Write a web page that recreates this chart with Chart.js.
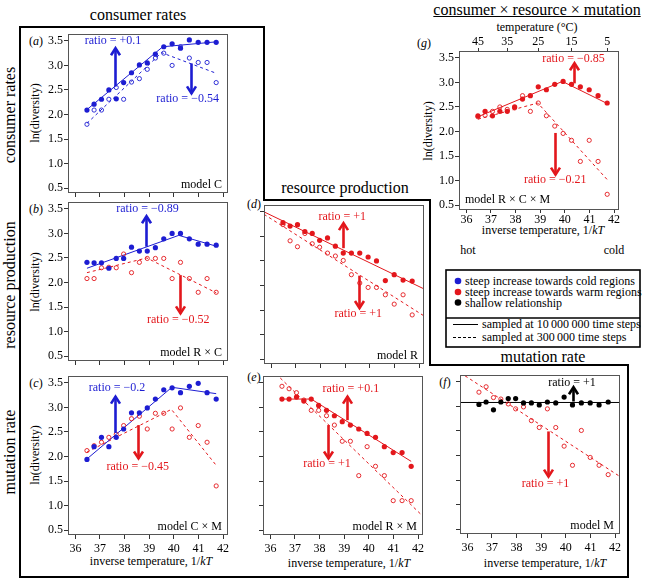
<!DOCTYPE html>
<html lang="en">
<head>
<meta charset="UTF-8">
<title>ln(diversity) against inverse temperature</title>
<script src="https://cdn.jsdelivr.net/npm/chart.js"></script>
<style>
  body { margin:0; background:#fff; width:647px; height:579px; position:relative; overflow:hidden;
         font-family:'Liberation Serif','Times New Roman',serif; color:#000; }
  canvas, svg { position:absolute; }
  .t { position:absolute; white-space:nowrap; transform:translate(-50%,-50%); line-height:1; font-size:12px; }
  .big { font-size:16px; }
  .rot { transform:translate(-50%,-50%) rotate(-90deg); }
  .lft { transform:translate(0,-50%); }
</style>
</head>
<body>
<svg width="647" height="579" style="left:0;top:0">
  <path d="M20,27 H264 V200 H430 V365 H628 V577 H20 Z" fill="none" stroke="#000" stroke-width="2"/>
  <rect x="446" y="270" width="194" height="77" fill="none" stroke="#000" stroke-width="1.6"/>
  <line x1="446" y1="318" x2="640" y2="318" stroke="#000" stroke-width="1.6"/>
  <circle cx="458" cy="281" r="3.3" fill="#1d1dd2"/>
  <circle cx="458" cy="292" r="3.3" fill="#e3171c"/>
  <circle cx="458" cy="302.5" r="3.3" fill="#000"/>
  <line x1="453" y1="324.5" x2="478" y2="324.5" stroke="#000" stroke-width="1"/>
  <line x1="453" y1="337.5" x2="478" y2="337.5" stroke="#000" stroke-width="1" stroke-dasharray="3,2"/>
</svg>

<div class="t big" style="left:138px;top:15px">consumer rates</div>
<div class="t big" style="left:345px;top:188px">resource production</div>
<div class="t big" style="left:543px;top:357px">mutation rate</div>
<div class="t big" style="left:537px;top:10px;text-decoration:underline">consumer × resource × mutation</div>

<div class="t big rot" style="left:10px;top:115px">consumer rates</div>
<div class="t big rot" style="left:10px;top:285px">resource production</div>
<div class="t big rot" style="left:10px;top:452px">mutation rate</div>

<div class="t" style="left:36px;top:41px">(<i>a</i>)</div>
<div class="t" style="left:36px;top:209px">(<i>b</i>)</div>
<div class="t" style="left:36px;top:383px">(<i>c</i>)</div>
<div class="t" style="left:254px;top:204px">(<i>d</i>)</div>
<div class="t" style="left:254px;top:377px">(<i>e</i>)</div>
<div class="t" style="left:445px;top:382px">(<i>f</i>)</div>
<div class="t" style="left:424px;top:43px">(<i>g</i>)</div>

<div class="t rot" style="left:35px;top:113px">ln(diversity)</div>
<div class="t rot" style="left:35px;top:282px">ln(diversity)</div>
<div class="t rot" style="left:35px;top:455px">ln(diversity)</div>
<div class="t rot" style="left:428px;top:131px">ln(diversity)</div>

<div class="t" style="left:151px;top:561px">inverse temperature, 1/<i>kT</i></div>
<div class="t" style="left:349px;top:563px">inverse temperature, 1/<i>kT</i></div>
<div class="t" style="left:545px;top:563px">inverse temperature, 1/<i>kT</i></div>
<div class="t" style="left:543px;top:230px">inverse temperature, 1/<i>kT</i></div>
<div class="t" style="left:537px;top:27px">temperature (°C)</div>
<div class="t" style="left:468px;top:250px">hot</div>
<div class="t" style="left:614px;top:250px">cold</div>

<div class="t lft" style="left:465px;top:281px">steep increase towards cold regions</div>
<div class="t lft" style="left:465px;top:292px">steep increase towards warm regions</div>
<div class="t lft" style="left:465px;top:302.5px">shallow relationship</div>
<div class="t lft" style="left:482px;top:324px">sampled at 10&#8201;000&#8201;000 time steps</div>
<div class="t lft" style="left:482px;top:337px">sampled at 300&#8201;000 time steps</div>

<script>
    // inverse temperature (1/kT) of the sampled sites, 45 °C down to 5 °C
    const xs = [36.47, 36.76, 37.06, 37.36, 37.66, 37.96, 38.28, 38.60, 38.92, 39.25, 39.59, 39.93, 40.27, 40.63, 40.99, 41.35, 41.72];
    const xTicks = [36, 37, 38, 39, 40, 41, 42];
    const yTicks = [0.5, 1.0, 1.5, 2.0, 2.5, 3.0, 3.5];
    const tempTicks = [45, 35, 25, 15, 5];

    // (a) model C
    const aSolid  = [2.09, 2.21, 2.31, 2.50, 2.32, 2.65, 2.85, 3.01, 3.05, 3.23, 3.38, 3.44, 3.35, 3.52, 3.47, 3.47, 3.47];
    const aHollow = [1.80, 2.09, 2.09, 2.31, 2.55, 2.31, 2.66, 2.73, 2.92, 3.15, 3.25, 3.00, 3.38, 3.15, 3.06, 3.06, 2.65];
    const aSolidFitX = [36.47, 39.55, 41.72], aSolidFitY = [2.10, 3.38, 3.48];
    const aDashFitX  = [36.47, 39.50, 41.72], aDashFitY  = [1.82, 3.26, 2.84];

    // (b) model R x C
    const bSolid  = [2.41, 2.40, 2.40, 2.29, 2.49, 2.49, 2.72, 2.64, 2.64, 2.71, 2.89, 3.00, 3.00, 2.89, 2.78, 2.78, 2.76];
    const bHollow = [2.08, 2.08, 2.30, 2.31, 2.30, 2.58, 2.20, 2.41, 2.49, 2.49, 2.49, 2.08, 2.41, 2.08, 1.80, 2.08, 1.80];
    const bSolidFitX = [36.47, 40.20, 41.72], bSolidFitY = [2.29, 2.96, 2.74];
    const bDashFitX  = [36.47, 38.90, 41.72], bDashFitY  = [2.20, 2.50, 1.79];

    // (c) model C x M
    const cSolid  = [1.94, 2.20, 2.39, 2.20, 2.39, 2.56, 2.89, 2.89, 2.99, 3.17, 3.36, 3.40, 3.30, 3.43, 3.49, 3.30, 3.17];
    const cHollow = [2.12, 2.22, 2.29, 2.39, 2.45, 2.63, 2.77, 2.82, 2.56, 2.88, 2.88, 2.56, 2.99, 2.39, 2.63, 2.29, 1.40];
    const cSolidFitX = [36.47, 39.92, 41.72], cSolidFitY = [1.95, 3.41, 3.28];
    const cDashFitX  = [36.47, 39.90, 41.72], cDashFitY  = [2.09, 2.96, 1.82];

    // (d) model R
    const dSolid  = [3.28, 3.21, 3.24, 3.10, 3.06, 2.92, 2.97, 2.80, 2.66, 2.66, 2.66, 2.58, 2.50, 2.10, 2.22, 2.11, 2.09];
    const dHollow = [3.24, 2.91, 2.79, 3.06, 2.85, 2.78, 2.66, 2.60, 2.51, 2.22, 2.05, 1.96, 1.96, 1.81, 1.62, 1.81, 1.40];
    const dSolidFitX = [35.70, 42.20], dSolidFitY = [3.50, 1.93];
    const dDashFitX  = [35.70, 42.20], dDashFitY  = [3.45, 1.38];

    // (e) model R x M
    const eSolid  = [3.17, 3.17, 3.21, 3.13, 3.17, 3.04, 2.94, 2.83, 2.71, 2.64, 2.56, 2.47, 2.39, 2.20, 2.08, 2.08, 1.80];
    const eHollow = [3.43, 3.38, 3.30, 3.15, 2.94, 2.94, 2.83, 2.64, 2.31, 2.31, 1.61, 2.20, 1.80, 1.61, 1.10, 1.10, 1.10];
    const eSolidFitX = [36.47, 37.66, 41.72], eSolidFitY = [3.17, 3.17, 1.90];
    const eDashFitX  = [35.70, 42.20], eDashFitY  = [3.94, 0.78];

    // (f) model M
    const fSolid  = [3.04, 3.09, 2.93, 3.09, 3.16, 3.16, 3.07, 3.07, 3.03, 3.09, 3.07, 3.19, 3.03, 3.07, 3.07, 3.03, 3.09];
    const fHollow = [3.29, 3.40, 3.18, 3.15, 3.05, 2.95, 2.99, 2.71, 2.57, 2.95, 2.57, 2.19, 1.80, 2.51, 1.96, 1.80, 1.61];
    const fSolidFitX = [35.70, 42.20], fSolidFitY = [3.08, 3.08];
    const fDashFitX  = [35.70, 42.20], fDashFitY  = [3.69, 1.57];

    // (g) model R x C x M
    const gSolid  = [2.32, 2.41, 2.32, 2.41, 2.41, 2.50, 2.66, 2.73, 2.91, 2.85, 2.96, 3.02, 2.96, 2.91, 2.85, 2.73, 2.58];
    const gHollow = [2.30, 2.33, 2.41, 2.50, 2.45, 2.48, 2.73, 2.41, 2.58, 2.32, 2.11, 1.96, 1.82, 1.39, 1.82, 1.39, 0.72];
    const gSolidFitX = [36.47, 39.90, 41.72], gSolidFitY = [2.30, 3.02, 2.57];
    const gDashFitX  = [36.47, 38.90, 41.72], gDashFitY  = [2.25, 2.58, 1.02];

    const BLUE = '#1d1dd2', RED = '#e3171c', BLACK = '#000000';
    const FONT = "'Liberation Serif', serif";
    const X_MIN = 35.7, X_MAX = 42.2, Y_MIN = 0.4, Y_MAX = 3.64;
    const BOX_W = 160, BOX_H = 159, AXIS_W = 45, AXIS_H = 30, PAD_R = 14;
    const kB = 8.617e-5;

    Chart.defaults.font.family = FONT;
    Chart.defaults.font.size = 12;

    const pts = ys => xs.map((x, i) => ({ x: x, y: ys[i] }));

    const scatterSet = (ys, color, filled) => ({
        data: pts(ys),
        pointRadius: filled ? 2.6 : 2.1,
        pointBorderWidth: filled ? 0 : 0.9,
        pointBackgroundColor: filled ? color : 'rgba(255,255,255,0)',
        pointBorderColor: color,
        showLine: false,
        order: 0
    });

    const fitSet = (fx, fy, color, dashed) => ({
        data: fx.map((x, i) => ({ x: x, y: fy[i] })),
        showLine: true,
        borderColor: color,
        borderWidth: 1,
        borderDash: dashed ? [3, 3] : [],
        pointRadius: 0,
        order: 1
    });

    const decoFor = p => ({
        id: 'deco',
        afterDraw(chart) {
            const { ctx, chartArea: a, scales } = chart;
            const x = scales.x, y = scales.y;
            ctx.save();
            ctx.strokeStyle = '#555';
            ctx.lineWidth = 1;
            ctx.strokeRect(a.left + 0.5, a.top + 0.5, a.width - 1, a.height - 1);

            p.notes.forEach(n => {
                const px = Math.round(x.getPixelForValue(n.x)) + 0.5;
                const p0 = y.getPixelForValue(n.from);
                const p1 = y.getPixelForValue(n.to);
                const dir = p1 < p0 ? 1 : -1;
                ctx.strokeStyle = n.color;
                ctx.lineWidth = 2.6;
                ctx.beginPath();
                ctx.moveTo(px, p0);
                ctx.lineTo(px, p1);
                ctx.stroke();
                ctx.beginPath();
                ctx.moveTo(px - 4.5, p1 + dir * 7);
                ctx.lineTo(px, p1);
                ctx.lineTo(px + 4.5, p1 + dir * 7);
                ctx.stroke();
                ctx.fillStyle = n.color;
                ctx.font = '12px ' + FONT;
                ctx.textAlign = 'center';
                ctx.textBaseline = 'middle';
                ctx.fillText(n.label, x.getPixelForValue(n.lx), y.getPixelForValue(n.ly));
            });

            ctx.fillStyle = '#000';
            ctx.font = '12px ' + FONT;
            ctx.textBaseline = 'middle';
            if (p.modelLeft) {
                ctx.textAlign = 'left';
                ctx.fillText(p.model, a.left + 6, a.bottom - 10);
            } else {
                ctx.textAlign = 'right';
                ctx.fillText(p.model, a.right - 6, a.bottom - 8);
            }
            ctx.restore();
        }
    });

    const makePanel = p => {
        const padT = p.topAxis ? 32 : 8;
        const cv = document.createElement('canvas');
        cv.width = AXIS_W + BOX_W + PAD_R;
        cv.height = padT + BOX_H + AXIS_H;
        cv.style.left = (p.box[0] - AXIS_W) + 'px';
        cv.style.top = (p.box[1] - padT) + 'px';
        document.body.appendChild(cv);

        const tickFont = { family: FONT, size: 12, lineHeight: 1 };
        const grid = { drawOnChartArea: false, drawTicks: true, tickLength: 4, color: '#333', lineWidth: 1 };
        const scales = {
            x: {
                type: 'linear', position: 'bottom', min: X_MIN, max: X_MAX,
                afterBuildTicks: s => { s.ticks = xTicks.map(v => ({ value: v })); },
                afterFit: s => { s.height = AXIS_H; },
                ticks: { display: p.xLabels, font: tickFont, color: '#000', padding: p.topAxis ? 1 : 4,
                         autoSkip: false, maxRotation: 0 },
                grid: p.topAxis ? Object.assign({}, grid, { tickLength: 3 }) : grid,
                border: { display: false }
            },
            y: {
                type: 'linear', position: 'left', min: Y_MIN, max: Y_MAX,
                afterBuildTicks: s => { s.ticks = yTicks.map(v => ({ value: v })); },
                afterFit: s => { s.width = AXIS_W; },
                ticks: { display: p.yLabels, font: tickFont, color: '#000', padding: 1, autoSkip: false,
                         callback: v => v.toFixed(1) },
                grid: grid,
                border: { display: false }
            }
        };
        if (p.topAxis) {
            scales.x2 = {
                type: 'linear', position: 'top', min: X_MIN, max: X_MAX,
                afterBuildTicks: s => { s.ticks = tempTicks.map(t => ({ value: 1 / (kB * (t + 273.15)) })); },
                afterFit: s => { s.height = 26; },
                ticks: { font: tickFont, color: '#000', padding: 0, autoSkip: false,
                         maxRotation: 0, callback: (v, i) => tempTicks[i] },
                grid: Object.assign({}, grid, { tickLength: 3 }),
                border: { display: false }
            };
        }

        new Chart(cv, {
            type: 'scatter',
            data: { datasets: p.datasets },
            options: {
                responsive: false,
                animation: false,
                devicePixelRatio: 1,
                events: [],
                layout: { autoPadding: false, padding: { left: 0, right: PAD_R, top: p.topAxis ? 6 : padT, bottom: 0 } },
                plugins: { legend: { display: false }, tooltip: { enabled: false } },
                scales: scales
            },
            plugins: [decoFor(p)]
        });
    };

    const panels = [
        {
            box: [68, 34], xLabels: false, yLabels: true, model: 'model C',
            datasets: [scatterSet(aSolid, BLUE, true), scatterSet(aHollow, BLUE, false),
                       fitSet(aSolidFitX, aSolidFitY, BLUE, false), fitSet(aDashFitX, aDashFitY, BLUE, true)],
            notes: [
                { x: 37.61, from: 2.57, to: 3.35, color: BLUE, label: 'ratio = +0.1', lx: 37.53, ly: 3.50 },
                { x: 40.69, from: 3.04, to: 2.43, color: BLUE, label: 'ratio = \u22120.54', lx: 40.56, ly: 2.31 }
            ]
        },
        {
            box: [68, 202], xLabels: false, yLabels: true, model: 'model R \u00d7 C',
            datasets: [scatterSet(bSolid, BLUE, true), scatterSet(bHollow, RED, false),
                       fitSet(bSolidFitX, bSolidFitY, BLUE, false), fitSet(bDashFitX, bDashFitY, RED, true)],
            notes: [
                { x: 38.86, from: 2.73, to: 3.35, color: BLUE, label: 'ratio = \u22120.89', lx: 38.93, ly: 3.50 },
                { x: 40.25, from: 2.15, to: 1.37, color: RED, label: 'ratio = \u22120.52', lx: 40.18, ly: 1.23 }
            ]
        },
        {
            box: [68, 376], xLabels: true, yLabels: true, model: 'model C \u00d7 M',
            datasets: [scatterSet(cSolid, BLUE, true), scatterSet(cHollow, RED, false),
                       fitSet(cSolidFitX, cSolidFitY, BLUE, false), fitSet(cDashFitX, cDashFitY, RED, true)],
            notes: [
                { x: 37.61, from: 2.48, to: 3.22, color: BLUE, label: 'ratio = \u22120.2', lx: 37.69, ly: 3.39 },
                { x: 38.56, from: 2.64, to: 1.96, color: RED, label: 'ratio = \u22120.45', lx: 38.53, ly: 1.79 }
            ]
        },
        {
            box: [264, 205], xLabels: false, yLabels: false, model: 'model R',
            datasets: [scatterSet(dSolid, RED, true), scatterSet(dHollow, RED, false),
                       fitSet(dSolidFitX, dSolidFitY, RED, false), fitSet(dDashFitX, dDashFitY, RED, true)],
            notes: [
                { x: 38.92, from: 2.76, to: 3.27, color: RED, label: 'ratio = +1', lx: 38.88, ly: 3.39 },
                { x: 39.57, from: 2.20, to: 1.54, color: RED, label: 'ratio = +1', lx: 39.53, ly: 1.42 }
            ]
        },
        {
            box: [263, 376], xLabels: true, yLabels: false, model: 'model R \u00d7 M',
            datasets: [scatterSet(eSolid, RED, true), scatterSet(eHollow, RED, false),
                       fitSet(eSolidFitX, eSolidFitY, RED, false), fitSet(eDashFitX, eDashFitY, RED, true)],
            notes: [
                { x: 39.10, from: 2.74, to: 3.22, color: RED, label: 'ratio = +0.1', lx: 39.27, ly: 3.37 },
                { x: 38.33, from: 2.64, to: 1.96, color: RED, label: 'ratio = +1', lx: 38.30, ly: 1.86 }
            ]
        },
        {
            box: [460, 375], xLabels: true, yLabels: false, model: 'model M',
            datasets: [scatterSet(fSolid, BLACK, true), scatterSet(fHollow, RED, false),
                       fitSet(fSolidFitX, fSolidFitY, BLACK, false), fitSet(fDashFitX, fDashFitY, RED, true)],
            notes: [
                { x: 40.28, from: 3.10, to: 3.39, color: BLACK, label: 'ratio = +1', lx: 40.25, ly: 3.47 },
                { x: 39.28, from: 2.49, to: 1.57, color: RED, label: 'ratio = +1', lx: 39.17, ly: 1.43 }
            ]
        },
        {
            box: [459, 51], xLabels: true, yLabels: true, topAxis: true, modelLeft: true, model: 'model R \u00d7 C \u00d7 M',
            datasets: [scatterSet(gSolid, RED, true), scatterSet(gHollow, RED, false),
                       fitSet(gSolidFitX, gSolidFitY, RED, false), fitSet(gDashFitX, gDashFitY, RED, true)],
            notes: [
                { x: 40.37, from: 2.98, to: 3.39, color: RED, label: 'ratio = \u22120.85', lx: 40.35, ly: 3.49 },
                { x: 39.62, from: 1.97, to: 1.12, color: RED, label: 'ratio = \u22120.21', lx: 39.61, ly: 1.02 }
            ]
        }
    ];

    // make sure the serif face is ready before the canvases draw text
    const build = () => panels.forEach(makePanel);
    if (document.fonts && document.fonts.load) {
        document.fonts.load("12px 'Liberation Serif'").then(build, build);
    } else {
        build();
    }
</script>
</body>
</html>
